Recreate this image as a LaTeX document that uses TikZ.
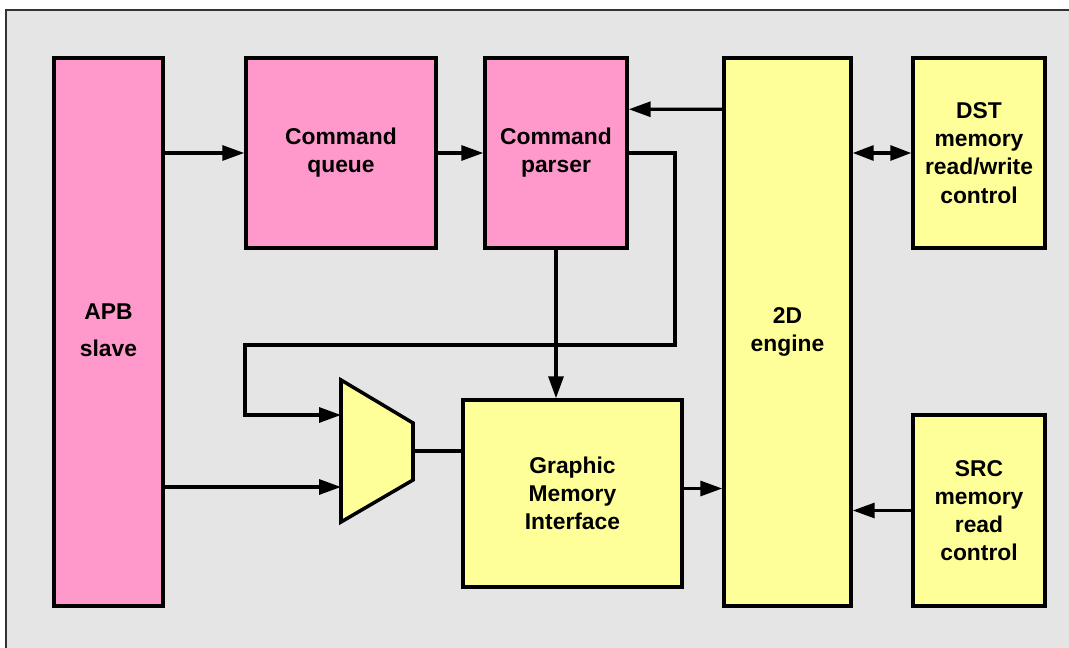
\documentclass[tikz,border=0pt]{standalone}
\usepackage{fontspec}
\setmainfont{Liberation Sans}
\usetikzlibrary{arrows.meta}

\definecolor{pinkfill}{HTML}{FF99CC}
\definecolor{yellowfill}{HTML}{FFFF99}
\definecolor{backfill}{HTML}{E5E5E5}

\tikzset{
  block/.style={draw, line width=2pt, align=center, inner sep=0pt,
    font=\bfseries\fontsize{13}{16}\selectfont},
  pinkblock/.style={block, fill=pinkfill},
  yellowblock/.style={block, fill=yellowfill},
  wire/.style={line width=1.8pt},
  arr/.style={wire, -{Triangle[length=0.44cm,width=0.3cm]}},
  dblarr/.style={wire, {Triangle[length=0.42cm,width=0.3cm]}-{Triangle[length=0.42cm,width=0.3cm]}}
}

\begin{document}
\begin{tikzpicture}[x=0.02cm, y=-0.02cm]
\useasboundingbox (0,0) rectangle (1069,648);
% frame
\draw[fill=backfill, line width=0.6pt, draw=black!80] (6,10) rectangle (1090,670);

% blocks
\node[pinkblock, minimum width=2.18cm, minimum height=10.96cm] (apb) at (108.5,332)
  {\raisebox{0.22cm}{\begin{tabular}{@{}c@{}}APB\\[5pt]slave\end{tabular}}};
\node[pinkblock, minimum width=3.8cm, minimum height=3.8cm] (queue) at (341,153) {Command\\queue};
\node[pinkblock, minimum width=2.84cm, minimum height=3.8cm] (parser) at (556,153) {Command\\parser};
\node[yellowblock, minimum width=2.54cm, minimum height=10.96cm] (engine) at (787.5,332) {2D\\engine};
\node[yellowblock, minimum width=2.64cm, minimum height=3.8cm] (dst) at (979,153) {DST\\memory\\read/write\\control};
\node[yellowblock, minimum width=2.64cm, minimum height=3.82cm] (src) at (979,510.5) {SRC\\memory\\read\\control};
\node[yellowblock, minimum width=4.38cm, minimum height=3.74cm] (gmi) at (572.5,493.5) {Graphic\\Memory\\Interface};

% mux
\draw[line width=2pt, fill=yellowfill, line join=miter] (341,380) -- (413,423) -- (413,480) -- (341,522) -- cycle;
\coordinate (muxa) at (341,415);
\coordinate (muxb) at (341,487);
\coordinate (muxo) at (413,451);

% connections
\draw[arr] (apb.east |- queue.west) -- (queue.west);
\draw[arr] (queue.east) -- (parser.west);
\draw[arr] ([yshift=-1.06cm]engine.north west) -- ([yshift=-1.06cm]parser.north east);
\draw[dblarr] (engine.east |- dst.west) -- (dst.west);
\draw[arr] (parser.east) -| (675,345) -| (245,415) -- (muxa);
\draw[arr] (parser.south) -- (parser.south |- gmi.north);
\draw[arr] (apb.east |- muxb) -- (muxb);
\draw[wire] (muxo) -- (muxo -| gmi.west);
\draw[arr] ([yshift=0.1cm]gmi.east) -- ([yshift=0.1cm]gmi.east -| engine.west);
\draw[arr] (src.west) -- (src.west -| engine.east);
\end{tikzpicture}
\end{document}
